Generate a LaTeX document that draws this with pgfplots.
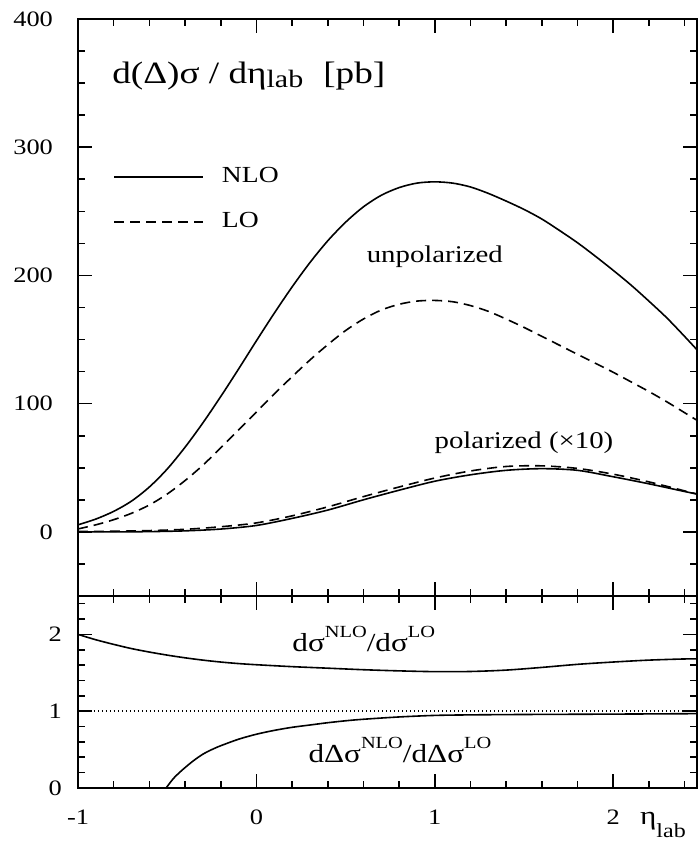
\documentclass[border=0pt]{standalone}
\usepackage{fontspec}
\setmainfont{Liberation Serif}[FakeStretch=1.2]
\usepackage{pgfplots}
\pgfplotsset{compat=1.18}
\usepackage{pgfplotstable}

\newcommand{\sups}[1]{\raisebox{7pt}{\fontsize{8.5}{9}\selectfont #1}}

\pgfplotstableread{
x y
-1 5.5
-0.9 10
-0.8 16
-0.7 24
-0.6 35
-0.5 49
-0.4 66
-0.3 85
-0.2 105.5
-0.1 127
0 149
0.1 170.5
0.2 191
0.3 210
0.4 227
0.5 241.5
0.6 253.5
0.7 262.5
0.8 268.5
0.9 272
1.0 273
1.1 272
1.2 269
1.3 264
1.4 258
1.5 251.5
1.6 244
1.7 235
1.8 225.5
1.9 215
2.0 204
2.1 192.5
2.2 180
2.3 167
2.4 152.5
2.47 142
}\unpolNLO

\pgfplotstableread{
x y
-1 2.3
-0.9 5.5
-0.8 9.5
-0.7 14.5
-0.6 21
-0.5 29.5
-0.4 40
-0.3 52
-0.2 65.5
-0.1 79.5
0 93.5
0.1 107.5
0.2 121
0.3 134
0.4 146
0.5 157
0.6 166
0.7 173
0.8 177.5
0.9 180
1.0 180.5
1.1 179.5
1.2 176.5
1.3 172
1.4 166
1.5 159.5
1.6 152.5
1.7 145.5
1.8 138.5
1.9 131.5
2.0 124.5
2.1 117
2.2 109.5
2.3 101.5
2.4 93
2.47 87
}\unpolLO

\pgfplotstableread{
x y
-1 0
-0.8 0
-0.6 0.2
-0.4 0.8
-0.2 2.2
0 5
0.2 10.5
0.4 17
0.6 25
0.8 32.5
1.0 39.5
1.2 44.5
1.4 48
1.6 49.3
1.8 48
2.0 43
2.2 37.5
2.4 31.5
2.47 29.5
}\polNLO

\pgfplotstableread{
x y
-1 0.3
-0.8 0.5
-0.6 1
-0.4 2
-0.2 4
0 7
0.2 12.5
0.4 19.5
0.6 27.5
0.8 35
1.0 42
1.2 47.5
1.4 51
1.6 51.5
1.8 49.5
2.0 45
2.2 39
2.4 32
2.47 29.5
}\polLO

\pgfplotstableread{
x y
-1 2.0
-0.9 1.93
-0.8 1.87
-0.7 1.815
-0.6 1.77
-0.5 1.73
-0.4 1.695
-0.3 1.665
-0.2 1.64
-0.1 1.62
0 1.605
0.2 1.58
0.4 1.56
0.6 1.54
0.8 1.525
1.0 1.515
1.2 1.517
1.4 1.535
1.6 1.57
1.8 1.61
2.0 1.64
2.2 1.665
2.4 1.68
2.47 1.68
}\ratioUnpol

\pgfplotstableread{
x y
-0.506 0
-0.49 0.05
-0.47 0.11
-0.45 0.16
-0.42 0.225
-0.39 0.285
-0.35 0.36
-0.3 0.44
-0.25 0.50
-0.2 0.55
-0.1 0.635
0 0.70
0.1 0.75
0.2 0.79
0.3 0.82
0.4 0.85
0.5 0.875
0.6 0.895
0.8 0.925
1.0 0.945
1.2 0.952
1.5 0.957
2.0 0.962
2.47 0.968
}\ratioPol

\pgfplotsset{
  myaxis/.style={
    scale only axis, width=309.5pt, xmin=-1, xmax=2.47,
    axis line style={line width=1pt},
    every tick/.style={line width=0.8pt, black},
    major tick length=7pt, minor tick length=3.5pt,
    tick align=inside,
    xtick={-1,0,1,2,3}, minor x tick num=4,
    /pgf/number format/assume math mode=true,
    ticklabel style={font=\fontsize{11}{13}\selectfont},
    clip mode=individual,
  },
  sol/.style={black, line width=0.8pt, smooth, tension=0.5},
  das/.style={black, line width=0.8pt, smooth, tension=0.5, dash pattern=on 5pt off 3pt},
}

\begin{document}
\begin{tikzpicture}
\begin{axis}[myaxis, name=top, height=288.5pt,
  ymin=-50, ymax=400, ytick={-100,0,100,200,300,400}, minor y tick num=3,
  xticklabels={},
  yticklabel style={xshift=-9pt},
  legend style={at={(axis cs:-0.804,284.4)}, anchor=north west, draw=none, fill=none,
    inner sep=0pt, row sep=13.4pt, column sep=9pt,
    font=\fontsize{11.5}{13}\selectfont, nodes={inner sep=0pt}, cells={anchor=west}},
  legend image code/.code={\draw[#1] (0pt,0pt) -- (44.5pt,0pt);},
]
\coordinate (TL) at (rel axis cs:0,1);
\addplot[sol] table {\unpolNLO}; \addlegendentry{NLO}
\addplot[das] table {\unpolLO}; \addlegendentry{LO}
\addplot[sol, forget plot] table {\polNLO};
\addplot[das, forget plot] table {\polLO};
\node[anchor=base west, inner sep=0pt, font=\fontsize{15.5}{17}\selectfont] at (axis cs:-0.81,350)
  {d(Δ)σ / dη\raisebox{-2pt}{\fontsize{12.5}{13}\selectfont lab}\hspace{10pt}[pb]};
\node[anchor=base, inner sep=0pt, font=\fontsize{12}{14}\selectfont] at (axis cs:1.0,210) {unpolarized};
\node[anchor=base, inner sep=0pt, font=\fontsize{12}{14}\selectfont] at (axis cs:1.5,64.8) {polarized (×10)};
\end{axis}

\begin{axis}[myaxis, at={(top.south west)}, anchor=north west, height=96pt,
  ymin=0, ymax=2.5, ytick={0,1,2,3}, minor y tick num=4,
  yticklabel style={xshift=-4.5pt},
  xticklabel style={yshift=-7.5pt},
  xlabel={η\raisebox{-6.5pt}{\fontsize{10}{11}\selectfont lab}},
  xlabel style={at={(axis description cs:0.945,0)}, anchor=base, yshift=-18.5pt, inner sep=0pt, font=\fontsize{13}{14}\selectfont},
]
\addplot[black, line width=0.7pt, dash pattern=on 0.7pt off 1.3pt] coordinates {(-1,1) (2.47,1)};
\addplot[sol] table {\ratioUnpol};
\addplot[sol] table {\ratioPol};
\node[anchor=base west, inner sep=0pt, font=\fontsize{13}{14}\selectfont] at (axis cs:0.2,1.78) {dσ\sups{NLO}/dσ\sups{LO}};
\node[anchor=base west, inner sep=0pt, font=\fontsize{13}{14}\selectfont] at (axis cs:0.29,0.335) {dΔσ\sups{NLO}/dΔσ\sups{LO}};
\end{axis}
\pgfresetboundingbox
\path[use as bounding box] (TL) ++(-39pt,9.5pt) rectangle ++(348.5pt,-420.5pt);
\end{tikzpicture}
\end{document}
